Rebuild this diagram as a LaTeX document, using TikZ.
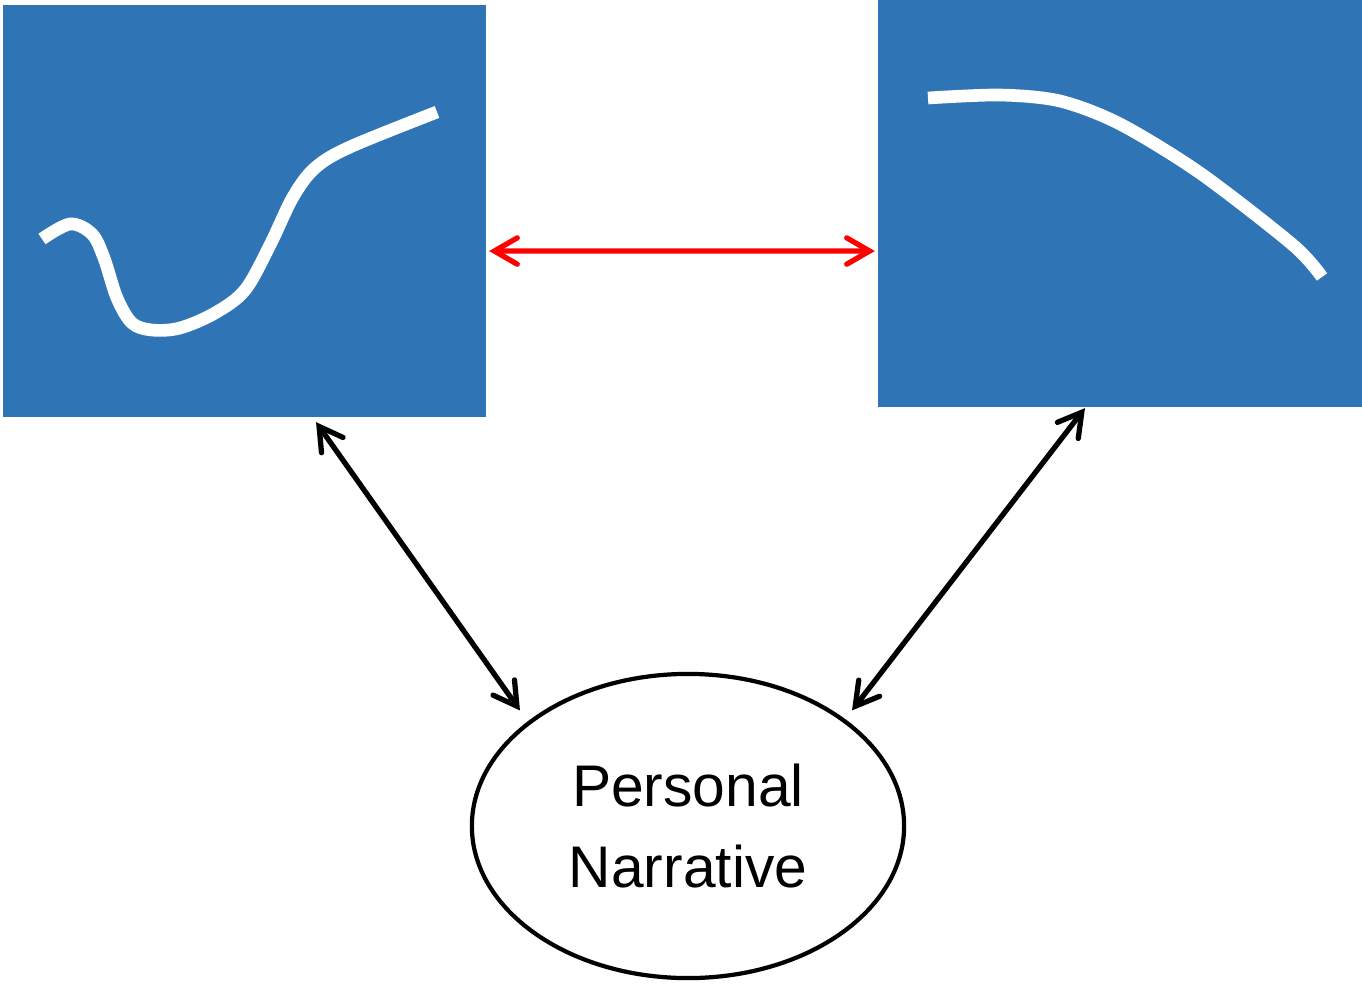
\documentclass[tikz,border=0pt]{standalone}
\usepackage{fontspec}
\setmainfont{Liberation Sans}
\usetikzlibrary{shapes,calc,arrows.meta}

\definecolor{panelblue}{RGB}{47,117,181}

\begin{document}
\begin{tikzpicture}[x=0.01cm,y=-0.01cm]
  \tikzstyle{panel}=[rectangle,fill=panelblue,inner sep=0pt, outer sep=0pt]
  \tikzstyle{link}=[line width=1.5pt,line cap=round,
    {Straight Barb[length=6.5pt,width=7.5pt,line cap=round]}-{Straight Barb[length=6.5pt,width=7.5pt,line cap=round]}]
  \tikzstyle{graph}=[white,line width=3.6pt]

  \useasboundingbox (0,0) rectangle (1362,984);

  \node [panel,minimum width=4.83cm,minimum height=4.12cm] (left) at (244.5,211) {};
  \node [panel,minimum width=4.84cm,minimum height=4.07cm] (right) at (1120,203.5) {};
  \node [ellipse,draw,line width=1.2pt,minimum width=4.32cm,minimum height=3.04cm,
    align=center,font=\fontsize{16.7}{22.8}\selectfont] (story) at (688,826)
    {Personal\\Narrative};

  % curves inside the panels
  \draw [graph] plot [smooth,tension=0.55] coordinates {
    (42,239) (70,224) (92,234) (104,258) (117,298) (132,323) (152,330)
    (180,328) (215,313) (245,290) (270,245) (293,197) (315,168)
    (350,147) (437,112)};
  \draw [graph] plot [smooth,tension=0.5] coordinates {
    (928,98) (1000,95) (1060,101) (1120,124) (1200,173)
    (1293,245) (1322,277)};

  \draw [link,red] ([xshift=0.03cm,yshift=-0.40cm]left.east)
    -- ([xshift=-0.03cm,yshift=-0.475cm]right.west);
  \draw [link] ([xshift=0.715cm,yshift=-0.05cm]left.south)
    -- ([xshift=-0.13cm,yshift=0.07cm]story.145);
  \draw [link] ([xshift=-0.35cm,yshift=-0.01cm]right.south)
    -- ([xshift=0.09cm,yshift=0.07cm]story.35);
\end{tikzpicture}
\end{document}
